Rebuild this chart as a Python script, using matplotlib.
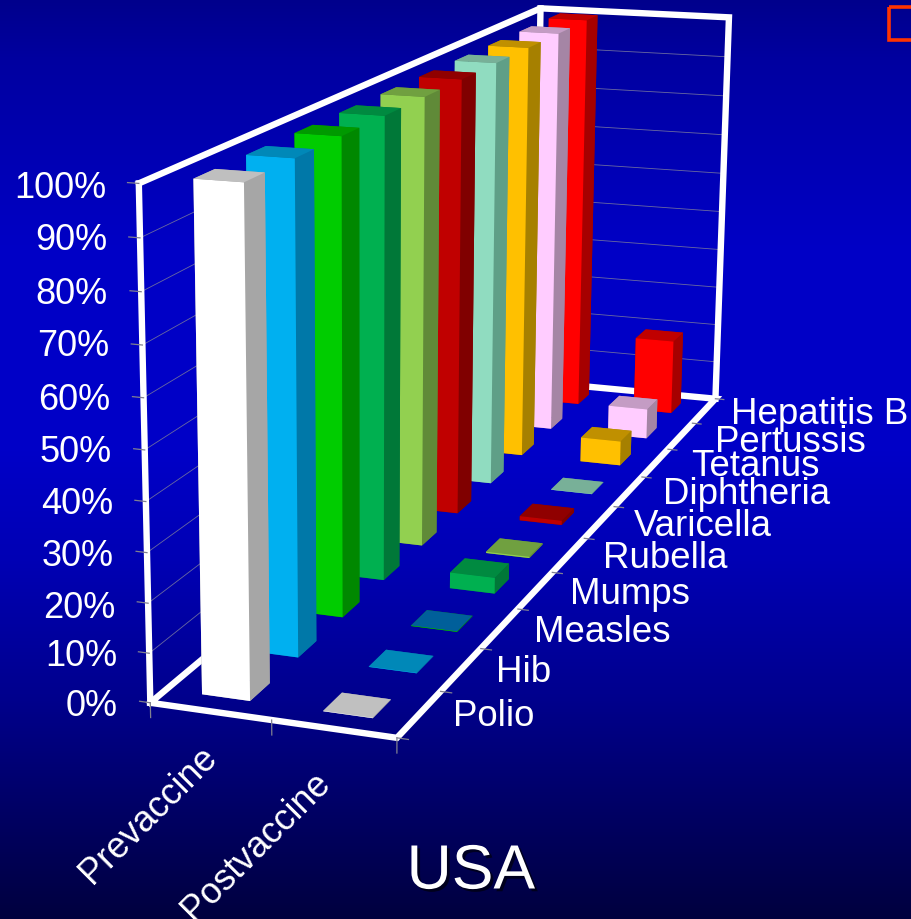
import numpy as np
import matplotlib
matplotlib.use('Agg')
import matplotlib.pyplot as plt
import matplotlib.patheffects as pe
from matplotlib.patches import Rectangle
from mpl_toolkits.mplot3d import Axes3D

plt.rcParams['font.family'] = ['Liberation Sans', 'DejaVu Sans']

# Chart data
groups = ['Prevaccine', 'Postvaccine']
diseases = ['Polio', 'Hib', 'Measles', 'Mumps', 'Rubella', 'Varicella',
            'Diphtheria', 'Tetanus', 'Pertussis', 'Hepatitis B']
prevaccine = [100, 100, 100, 100, 100, 100, 100, 100, 100, 100]
postvaccine = [0.1, 0.1, 0.1, 3.5, 0.3, 1, 0.1, 6, 7.5, 19]
pct_ticks = [0, 10, 20, 30, 40, 50, 60, 70, 80, 90, 100]

# Bar colours: front, top, side
pre_front = ['#FFFFFF', '#00B0F0', '#00CC00', '#00B050', '#92D050',
             '#C00000', '#90DCC0', '#FFC000', '#FFCCFF', '#FF0000']
pre_top = ['#BFBFBF', '#0088B8', '#009900', '#008A40', '#70A040',
           '#900000', '#78B098', '#C09000', '#C49CC4', '#C00000']
pre_side = ['#A6A6A6', '#0078A8', '#008800', '#007838', '#608A38',
            '#800000', '#5F9F87', '#A68000', '#A585A5', '#A60000']
post_front = list(pre_front)
post_top = ['#C0C0C0', '#0088B8', '#005F9A', '#008A40', '#70A040',
            '#900000', '#78B098', '#C09000', '#C49CC4', '#C00000']
post_side = list(pre_side)

W, H = 912, 919
fig = plt.figure(figsize=(W / 100, H / 100), dpi=100)

# Background gradient, text and the stray box live in a pixel-space axes
bg = fig.add_axes([0, 0, 1, 1])
stops_y = [0, 60, 250, 450, 560, 700, 800, 919]
stops_b = [140, 160, 198, 200, 180, 140, 104, 62]
grad = np.zeros((H, 1, 3))
grad[:, 0, 2] = np.interp(np.arange(H), stops_y, stops_b) / 255
bg.imshow(grad, aspect='auto', extent=(0, W, H, 0))
bg.set_xlim(0, W)
bg.set_ylim(H, 0)
bg.axis('off')
bg.add_patch(Rectangle((889.5, 6.5), 40, 33, fill=False, ec='#FF3300', lw=2.6))

pct_right = [118, 117, 115, 114, 113, 112, 110, 109, 108, 107, 106]
pct_y = [707, 656, 608, 557, 504, 453, 400, 347, 294, 241, 189]
for p, xr, yy in zip(pct_ticks, pct_right, pct_y):
    bg.text(xr, yy, f'{p}%', color='white', fontsize=26, ha='right', va='center')

label_x = [453, 496, 534, 570, 603, 634, 663, 691, 715, 731]
label_y = [717, 672, 632, 594, 558, 526, 495, 467, 442, 415]
for name, xx, yy in zip(diseases, label_x, label_y):
    bg.text(xx, yy, name, color='white', fontsize=26.4, ha='left', va='center')

group_x = [212, 325]
group_y = [752, 778]
for name, xx, yy in zip(groups, group_x, group_y):
    bg.text(xx, yy, name, color='white', fontsize=26, rotation=45,
            rotation_mode='anchor', ha='right', va='center')

bg.text(471, 872, 'USA', color='white', fontsize=45, ha='center', va='center',
        path_effects=[pe.withSimplePatchShadow(offset=(2, -2), shadow_rgbFace='black', alpha=0.6)])

# 3D axes, camera solved from where the box corners sit in the picture
ax = fig.add_axes([0, 0, 1, 1], projection='3d')
ax.set_axis_off()
ax.patch.set_visible(False)
ax.computed_zorder = False

cube = np.array([[0, 0, 0], [1, 0, 0], [1, 1, 0], [0, 1, 0],
                 [0, 0, 1], [0, 1, 1], [1, 1, 1]], dtype=float)
corner_px = np.array([[152, 703], [396, 738], [717, 398], [532, 382],
                      [138, 183], [542, 8], [728, 18]], dtype=float)
rows = []
for (a, b, c), (u, v) in zip(cube, corner_px):
    v = H - v
    rows.append([a, b, c, 1, 0, 0, 0, 0, -u * a, -u * b, -u * c, -u])
    rows.append([0, 0, 0, 0, a, b, c, 1, -v * a, -v * b, -v * c, -v])
P = np.linalg.svd(np.array(rows))[2][-1].reshape(3, 4)
if P[2] @ np.array([0.5, 0.5, 0.5, 1]) < 0:
    P = -P
P = P @ np.diag([1 / 2, 1 / 10, 1 / 100, 1])


def fixed_proj():
    Q = ax.transData.inverted().get_matrix() @ P
    return np.vstack([Q[0], Q[1], [0, 0, 0, -1], Q[2]])


ax.get_proj = fixed_proj

# Frame
frame = dict(color='white', lw=4.6, zorder=1, solid_capstyle='projecting', solid_joinstyle='miter')
ax.plot([0, 2, 2, 0, 0], [0, 0, 10, 10, 0], [0, 0, 0, 0, 0], **frame)
ax.plot([0, 0, 2, 2], [0, 10, 10, 10], [100, 100, 100, 0], **frame)
ax.plot([0, 0], [0, 0], [0, 100], **frame)
ax.plot([0, 0], [10, 10], [0, 100], **frame)

# Gridlines and tick marks
for p in pct_ticks[1:-1]:
    ax.plot([0, 0, 2], [0, 10, 10], [p, p, p], color='#6A6AA0', lw=0.6, zorder=0.5)
for p in pct_ticks:
    ax.plot([-0.09, 0], [0, 0], [p, p], color='#808090', lw=0.9, zorder=1.5)
for i in range(len(groups) + 1):
    ax.plot([i, i], [0, 0], [-3, 0], color='#808090', lw=0.9, zorder=1.5)
for i in range(len(diseases) + 1):
    ax.plot([2, 2.09], [i, i], [0, 0], color='#808090', lw=0.9, zorder=1.5)

# Bars
n = len(diseases)
xs = np.r_[np.zeros(n), np.ones(n)] + 0.3
ys = np.r_[np.arange(n), np.arange(n)] + 0.3
heights = np.r_[prevaccine, postvaccine]
fronts = pre_front + post_front
tops = pre_top + post_top
sides = pre_side + post_side
face_colors = []
for fr, tp, sd in zip(fronts, tops, sides):
    # order is -z, +z, -y, +y, -x, +x
    face_colors += [sd, tp, fr, sd, sd, sd]
ax.bar3d(xs, ys, np.zeros(2 * n), 0.4, 0.4, heights, color=face_colors, shade=False, zorder=2)

fig.savefig('out.png', dpi=100)
